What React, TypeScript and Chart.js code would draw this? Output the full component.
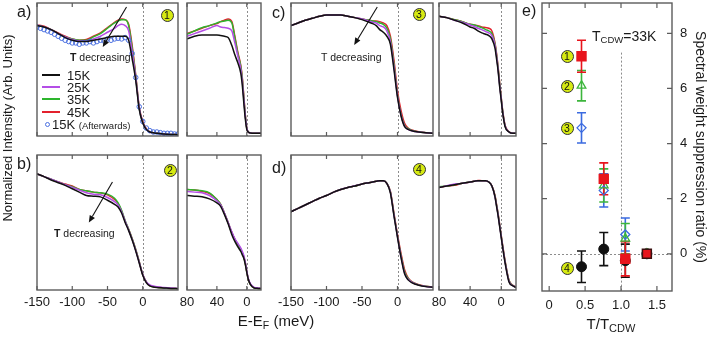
import React, { useEffect, useRef } from "react";
import { Chart, registerables } from "chart.js";

const FONT = '"Liberation Sans", Arial, Helvetica, sans-serif';

// ---------------- data ----------------
const tempLabels = ["15K", "25K", "35K", "45K"];
const tempColors = ["#111111", "#b44ee6", "#2db52d", "#e3212d"];
const afterLabel = "15K";
const afterNote = "(Afterwards)";
const afterColor = "#4a6fe0";

const wideE = [-150, -140, -130, -120, -110, -100, -90, -80, -70, -60, -50, -40, -35, -30, -25, -20, -15, -10, -5, 0, 5, 10, 15, 20, 30, 40, 50];
const narrowE = [80, 70, 60, 50, 40, 35, 30, 25, 20, 16, 12, 8, 6, 4, 2, 0, -2, -5, -10, -15, -19];
const afterE = [-150, -145, -140, -135, -130, -125, -120, -115, -110, -105, -100, -95, -90, -85, -80, -75, -70, -65, -60, -55, -50, -45, -40, -35, -30, -25, -20, -15, -10, -5, 0, 5, 10, 15, 20, 25, 30, 35, 40, 45, 50];
const wideTicks = [-150, -100, -50, 0];
const narrowTicks = [80, 40, 0];

// panel a (1)
const aW15 = [0.83, 0.82, 0.80, 0.77, 0.74, 0.72, 0.71, 0.71, 0.72, 0.73, 0.74, 0.75, 0.75, 0.75, 0.75, 0.72, 0.58, 0.42, 0.20, 0.10, 0.05, 0.03, 0.025, 0.02, 0.015, 0.012, 0.01];
const aW25 = [0.83, 0.82, 0.80, 0.77, 0.745, 0.725, 0.715, 0.715, 0.73, 0.75, 0.78, 0.81, 0.83, 0.84, 0.83, 0.79, 0.63, 0.44, 0.21, 0.10, 0.05, 0.03, 0.025, 0.02, 0.015, 0.012, 0.01];
const aW35 = [0.83, 0.82, 0.80, 0.77, 0.745, 0.73, 0.72, 0.72, 0.745, 0.77, 0.81, 0.85, 0.865, 0.875, 0.875, 0.83, 0.66, 0.45, 0.21, 0.10, 0.05, 0.03, 0.025, 0.02, 0.015, 0.012, 0.01];
const aW45 = [0.835, 0.825, 0.80, 0.775, 0.75, 0.73, 0.72, 0.725, 0.75, 0.775, 0.815, 0.855, 0.87, 0.88, 0.875, 0.84, 0.68, 0.46, 0.22, 0.11, 0.055, 0.03, 0.025, 0.02, 0.015, 0.012, 0.01];
const aAfter = [0.82, 0.81, 0.80, 0.79, 0.78, 0.765, 0.75, 0.735, 0.72, 0.71, 0.70, 0.70, 0.69, 0.70, 0.70, 0.71, 0.70, 0.71, 0.72, 0.715, 0.73, 0.72, 0.73, 0.735, 0.73, 0.74, 0.72, 0.62, 0.44, 0.22, 0.11, 0.06, 0.04, 0.03, 0.03, 0.025, 0.02, 0.02, 0.02, 0.015, 0.015];
const aN15 = [0.73, 0.75, 0.76, 0.76, 0.76, 0.755, 0.75, 0.74, 0.68, 0.61, 0.55, 0.47, 0.38, 0.25, 0.13, 0.05, 0.03, 0.022, 0.02, 0.02, 0.02];
const aN25 = [0.75, 0.77, 0.79, 0.81, 0.83, 0.82, 0.815, 0.81, 0.79, 0.70, 0.60, 0.50, 0.41, 0.28, 0.15, 0.06, 0.03, 0.022, 0.02, 0.02, 0.02];
const aN35 = [0.765, 0.79, 0.815, 0.83, 0.85, 0.86, 0.865, 0.87, 0.85, 0.74, 0.62, 0.52, 0.43, 0.29, 0.155, 0.06, 0.03, 0.022, 0.02, 0.02, 0.02];
const aN45 = [0.77, 0.79, 0.81, 0.83, 0.845, 0.86, 0.87, 0.88, 0.86, 0.75, 0.63, 0.53, 0.44, 0.30, 0.16, 0.06, 0.03, 0.022, 0.02, 0.02, 0.02];

// panel b (2)
const bW15 = [0.86, 0.84, 0.815, 0.795, 0.775, 0.75, 0.725, 0.70, 0.695, 0.69, 0.665, 0.635, 0.615, 0.57, 0.50, 0.44, 0.37, 0.29, 0.20, 0.11, 0.055, 0.03, 0.022, 0.018, 0.015, 0.012, 0.01];
const bW25 = [0.86, 0.84, 0.82, 0.80, 0.78, 0.76, 0.74, 0.72, 0.71, 0.705, 0.685, 0.655, 0.63, 0.58, 0.51, 0.445, 0.375, 0.295, 0.205, 0.115, 0.06, 0.038, 0.03, 0.024, 0.018, 0.014, 0.012];
const bW35 = [0.86, 0.84, 0.82, 0.80, 0.78, 0.765, 0.745, 0.735, 0.725, 0.72, 0.71, 0.68, 0.645, 0.59, 0.515, 0.45, 0.38, 0.30, 0.21, 0.115, 0.06, 0.033, 0.024, 0.02, 0.015, 0.012, 0.01];
const bW45 = [0.86, 0.84, 0.82, 0.80, 0.785, 0.77, 0.745, 0.735, 0.725, 0.72, 0.705, 0.67, 0.64, 0.585, 0.51, 0.45, 0.38, 0.30, 0.21, 0.115, 0.06, 0.033, 0.024, 0.02, 0.015, 0.012, 0.01];
const bN15 = [0.70, 0.695, 0.69, 0.675, 0.645, 0.62, 0.56, 0.49, 0.41, 0.36, 0.32, 0.285, 0.26, 0.235, 0.19, 0.13, 0.08, 0.04, 0.015, 0.012, 0.01];
const bN25 = [0.73, 0.725, 0.72, 0.70, 0.66, 0.63, 0.57, 0.50, 0.43, 0.38, 0.345, 0.31, 0.285, 0.255, 0.205, 0.14, 0.085, 0.045, 0.02, 0.015, 0.012];
const bN35 = [0.745, 0.74, 0.735, 0.72, 0.67, 0.635, 0.57, 0.50, 0.425, 0.375, 0.34, 0.30, 0.275, 0.245, 0.20, 0.135, 0.08, 0.04, 0.015, 0.012, 0.01];
const bN45 = [0.745, 0.74, 0.73, 0.715, 0.67, 0.635, 0.57, 0.50, 0.425, 0.375, 0.335, 0.30, 0.27, 0.245, 0.20, 0.135, 0.08, 0.04, 0.015, 0.012, 0.01];

// panel c (3)
const cW15 = [0.83, 0.85, 0.87, 0.885, 0.90, 0.91, 0.91, 0.91, 0.90, 0.89, 0.875, 0.855, 0.845, 0.83, 0.80, 0.78, 0.75, 0.69, 0.50, 0.29, 0.15, 0.07, 0.05, 0.04, 0.03, 0.025, 0.02];
const cW25 = [0.83, 0.85, 0.87, 0.885, 0.90, 0.91, 0.91, 0.91, 0.90, 0.89, 0.88, 0.865, 0.855, 0.85, 0.83, 0.82, 0.79, 0.71, 0.52, 0.30, 0.155, 0.075, 0.05, 0.04, 0.03, 0.025, 0.02];
const cW35 = [0.83, 0.85, 0.87, 0.885, 0.90, 0.91, 0.91, 0.91, 0.90, 0.89, 0.88, 0.87, 0.865, 0.86, 0.85, 0.84, 0.81, 0.73, 0.54, 0.31, 0.16, 0.08, 0.055, 0.042, 0.03, 0.025, 0.02];
const cW45 = [0.83, 0.85, 0.87, 0.885, 0.90, 0.91, 0.91, 0.91, 0.90, 0.89, 0.88, 0.87, 0.865, 0.865, 0.86, 0.85, 0.83, 0.75, 0.57, 0.34, 0.19, 0.095, 0.06, 0.045, 0.032, 0.025, 0.02];
const cN15 = [0.90, 0.89, 0.87, 0.85, 0.82, 0.81, 0.79, 0.775, 0.765, 0.755, 0.73, 0.66, 0.58, 0.49, 0.37, 0.27, 0.17, 0.07, 0.03, 0.02, 0.02];
const cN25 = [0.90, 0.89, 0.87, 0.855, 0.835, 0.825, 0.81, 0.80, 0.785, 0.775, 0.755, 0.68, 0.60, 0.50, 0.38, 0.28, 0.175, 0.075, 0.03, 0.02, 0.02];
const cN35 = [0.90, 0.89, 0.875, 0.86, 0.84, 0.835, 0.825, 0.815, 0.80, 0.79, 0.77, 0.69, 0.61, 0.51, 0.39, 0.285, 0.18, 0.075, 0.03, 0.02, 0.02];
const cN45 = [0.90, 0.89, 0.875, 0.86, 0.84, 0.835, 0.83, 0.82, 0.815, 0.81, 0.79, 0.70, 0.62, 0.52, 0.40, 0.29, 0.185, 0.08, 0.032, 0.02, 0.02];

// panel d (4)
const dW15 = [0.58, 0.605, 0.63, 0.655, 0.68, 0.70, 0.725, 0.745, 0.76, 0.77, 0.785, 0.795, 0.80, 0.805, 0.81, 0.81, 0.79, 0.72, 0.55, 0.39, 0.24, 0.12, 0.075, 0.055, 0.035, 0.025, 0.02];
const dW25 = [0.58, 0.605, 0.63, 0.655, 0.68, 0.70, 0.725, 0.745, 0.76, 0.772, 0.785, 0.795, 0.80, 0.805, 0.81, 0.81, 0.79, 0.725, 0.555, 0.395, 0.245, 0.125, 0.08, 0.058, 0.036, 0.026, 0.02];
const dW35 = [0.58, 0.605, 0.63, 0.655, 0.68, 0.70, 0.725, 0.745, 0.76, 0.77, 0.785, 0.795, 0.80, 0.805, 0.81, 0.81, 0.79, 0.727, 0.56, 0.40, 0.255, 0.135, 0.085, 0.06, 0.038, 0.027, 0.021];
const dW45 = [0.58, 0.605, 0.63, 0.655, 0.68, 0.70, 0.725, 0.745, 0.76, 0.77, 0.785, 0.795, 0.80, 0.805, 0.81, 0.81, 0.79, 0.73, 0.57, 0.41, 0.27, 0.15, 0.09, 0.062, 0.04, 0.028, 0.022];
const dN15 = [0.76, 0.77, 0.78, 0.79, 0.80, 0.805, 0.81, 0.81, 0.81, 0.80, 0.77, 0.69, 0.62, 0.55, 0.47, 0.39, 0.31, 0.20, 0.06, 0.03, 0.02];
const dN25 = [0.76, 0.772, 0.785, 0.79, 0.80, 0.805, 0.81, 0.81, 0.81, 0.80, 0.77, 0.69, 0.625, 0.555, 0.475, 0.395, 0.315, 0.205, 0.065, 0.032, 0.02];
const dN35 = [0.765, 0.77, 0.78, 0.79, 0.80, 0.805, 0.81, 0.81, 0.81, 0.80, 0.77, 0.695, 0.63, 0.56, 0.48, 0.40, 0.32, 0.21, 0.07, 0.033, 0.021];
const dN45 = [0.76, 0.77, 0.775, 0.79, 0.80, 0.805, 0.812, 0.81, 0.81, 0.80, 0.772, 0.70, 0.635, 0.565, 0.485, 0.405, 0.325, 0.215, 0.072, 0.035, 0.022];

// panel e
const eTRatio = [0.45, 0.76, 1.06, 1.36];
const eVal1 = [7.17, 2.72, -0.18, 0];
const eErr1 = [0.58, 0.58, 0.62, 0];
const eVal2 = [6.1, 2.48, 0.55, 0];
const eErr2 = [0.55, 0.6, 0.55, 0];
const eVal3 = [4.57, 2.3, 0.7, 0];
const eErr3 = [0.55, 0.6, 0.6, 0];
const eVal4 = [-0.47, 0.17, -0.25, 0];
const eErr4 = [0.57, 0.6, 0.6, 0];
const eXTicks = [0, 0.5, 1.0, 1.5];
const eYTicks = [0, 2, 4, 6, 8];
const tcdwText = "=33K";

// ---------------- plugins ----------------
const decorPlugin: any = {
  id: "decor",
  beforeDatasetsDraw(chart: any, _a: any, o: any) {
    if (!o || !o.frame) return;
    const { ctx, chartArea: a, scales } = chart;
    const xs = scales.x, ys = scales.y;
    ctx.save();
    ctx.strokeStyle = "#8c8c8c";
    ctx.lineWidth = 1;
    ctx.setLineDash([2, 2]);
    (o.vLines || []).forEach((l: any) => {
      const px = Math.round(xs.getPixelForValue(l.x)) + 0.5;
      const top = l.from != null ? ys.getPixelForValue(l.from) : a.top;
      ctx.beginPath();
      ctx.moveTo(px, top);
      ctx.lineTo(px, a.bottom);
      ctx.stroke();
    });
    (o.hLines || []).forEach((v: number) => {
      const py = Math.round(ys.getPixelForValue(v)) + 0.5;
      ctx.beginPath();
      ctx.moveTo(a.left, py);
      ctx.lineTo(a.right, py);
      ctx.stroke();
    });
    ctx.restore();
  },
  afterDatasetsDraw(chart: any, _a: any, o: any) {
    if (!o || !o.frame) return;
    const { ctx, chartArea: a, scales } = chart;
    const xs = scales.x, ys = scales.y;
    ctx.save();
    ctx.setLineDash([]);
    ctx.strokeStyle = "#5c5c5c";
    ctx.lineWidth = 1.4;
    ctx.strokeRect(a.left, a.top, a.right - a.left, a.bottom - a.top);
    ctx.lineWidth = 1.2;
    const L = o.tickLen || 4;
    ctx.beginPath();
    (o.xTicks || []).forEach((v: number) => {
      const px = xs.getPixelForValue(v);
      ctx.moveTo(px, a.bottom);
      ctx.lineTo(px, a.bottom - L);
      ctx.moveTo(px, a.top);
      ctx.lineTo(px, a.top + L);
    });
    (o.yTicks || []).forEach((v: number) => {
      const py = ys.getPixelForValue(v);
      ctx.moveTo(a.left, py);
      ctx.lineTo(a.left + L, py);
      ctx.moveTo(a.right, py);
      ctx.lineTo(a.right - L, py);
    });
    ctx.stroke();
    ctx.strokeStyle = "#111";
    ctx.fillStyle = "#111";
    ctx.lineWidth = 1.1;
    (o.arrows || []).forEach((ar: any) => {
      const x1 = xs.getPixelForValue(ar.x1), y1 = ys.getPixelForValue(ar.y1);
      const x2 = xs.getPixelForValue(ar.x2), y2 = ys.getPixelForValue(ar.y2);
      const ang = Math.atan2(y2 - y1, x2 - x1);
      const hl = 7, hw = 3;
      const bx = x2 - hl * Math.cos(ang), by = y2 - hl * Math.sin(ang);
      ctx.beginPath();
      ctx.moveTo(x1, y1);
      ctx.lineTo(bx, by);
      ctx.stroke();
      ctx.beginPath();
      ctx.moveTo(x2, y2);
      ctx.lineTo(bx + hw * Math.sin(ang), by - hw * Math.cos(ang));
      ctx.lineTo(bx - hw * Math.sin(ang), by + hw * Math.cos(ang));
      ctx.closePath();
      ctx.fill();
    });
    ctx.restore();
  },
};

const errorBarPlugin: any = {
  id: "errbars",
  beforeDatasetsDraw(chart: any) {
    const { ctx } = chart;
    const ys = chart.scales.y;
    for (let i = chart.data.datasets.length - 1; i >= 0; i--) {
      const ds = chart.data.datasets[i];
      if (!ds.errors) continue;
      const meta = chart.getDatasetMeta(i);
      ctx.save();
      ctx.strokeStyle = ds.errColor;
      ctx.lineWidth = 1.6;
      meta.data.forEach((pt: any, j: number) => {
        const e = ds.errors[j];
        if (!e) return;
        const v = ds.data[j].y;
        const yt = ys.getPixelForValue(v + e), yb = ys.getPixelForValue(v - e);
        const x = pt.x, cw = 4.5;
        ctx.beginPath();
        ctx.moveTo(x, yt);
        ctx.lineTo(x, yb);
        ctx.moveTo(x - cw, yt);
        ctx.lineTo(x + cw, yt);
        ctx.moveTo(x - cw, yb);
        ctx.lineTo(x + cw, yb);
        ctx.stroke();
      });
      ctx.restore();
    }
  },
};

Chart.register(...registerables, decorPlugin, errorBarPlugin);

// ---------------- layout ----------------
const PADX = 22, PADT = 3, LABEL_H = 24;

type PanelDef = {
  box: [number, number, number, number];
  xs: number[];
  series: number[][];
  wide: boolean;
  labels: boolean;
  after?: number[];
  arrow?: { x1: number; y1: number; x2: number; y2: number };
};

const panels: PanelDef[] = [
  { box: [37, 3, 178, 136], xs: wideE, series: [aW15, aW25, aW35, aW45], wide: true, labels: false, after: aAfter, arrow: { x1: -23, y1: 0.97, x2: -56.7, y2: 0.67 } },
  { box: [187, 3, 261, 136], xs: narrowE, series: [aN15, aN25, aN35, aN45], wide: false, labels: false },
  { box: [291, 3, 433, 136], xs: wideE, series: [cW15, cW25, cW35, cW45], wide: true, labels: false, arrow: { x1: -28.5, y1: 0.97, x2: -61, y2: 0.685 } },
  { box: [439, 3, 516, 136], xs: narrowE, series: [cN15, cN25, cN35, cN45], wide: false, labels: false },
  { box: [37, 155, 178, 290], xs: wideE, series: [bW15, bW25, bW35, bW45], wide: true, labels: true, arrow: { x1: -43, y1: 0.8, x2: -76.5, y2: 0.5 } },
  { box: [187, 155, 261, 290], xs: narrowE, series: [bN15, bN25, bN35, bN45], wide: false, labels: true },
  { box: [291, 155, 433, 290], xs: wideE, series: [dW15, dW25, dW35, dW45], wide: true, labels: true },
  { box: [439, 155, 516, 290], xs: narrowE, series: [dN15, dN25, dN35, dN45], wide: false, labels: true },
];

const noGrid = { display: false, drawTicks: false, tickLength: 0 };

function spectrumConfig(p: PanelDef): any {
  const datasets: any[] = p.series.map((vals, i) => ({
    label: tempLabels[i],
    data: p.xs.map((x, j) => ({ x, y: vals[j] })),
    borderColor: tempColors[i],
    backgroundColor: tempColors[i],
    borderWidth: 1.5,
    pointRadius: 0,
    pointHoverRadius: 0,
    fill: false,
    cubicInterpolationMode: "monotone",
  }));
  if (p.after) {
    datasets.splice(1, 0, {
      label: afterLabel + " " + afterNote,
      data: afterE.map((x, j) => ({ x, y: p.after![j] })),
      showLine: false,
      pointRadius: 2.3,
      pointHoverRadius: 2.3,
      pointStyle: "circle",
      borderColor: afterColor,
      backgroundColor: "rgba(0,0,0,0)",
      pointBorderWidth: 1,
    });
  }
  const ticks = p.wide ? wideTicks : narrowTicks;
  return {
    type: "line",
    data: { datasets },
    options: {
      animation: false,
      responsive: false,
      events: [],
      layout: { autoPadding: false, padding: { left: PADX, right: PADX, top: PADT, bottom: p.labels ? 0 : 3 } },
      plugins: {
        legend: { display: false },
        tooltip: { enabled: false },
        decor: { frame: true, xTicks: ticks, vLines: [{ x: 0 }], arrows: p.arrow ? [p.arrow] : [], tickLen: 4 },
      },
      scales: {
        x: {
          type: "linear",
          min: p.wide ? -150 : -19,
          max: p.wide ? 50 : 80,
          reverse: !p.wide,
          display: p.labels,
          grid: noGrid,
          border: { display: false },
          afterBuildTicks: (s: any) => {
            s.ticks = ticks.map((v) => ({ value: v }));
          },
          afterFit: (s: any) => {
            s.height = p.labels ? LABEL_H : 0;
            s.paddingTop = 0;
            s.paddingBottom = 0;
          },
          ticks: {
            autoSkip: false,
            maxRotation: 0,
            padding: 5,
            color: "#1a1a1a",
            font: { family: FONT, size: 13 },
            callback: (v: any) => String(v),
          },
        },
        y: {
          type: "linear",
          min: 0,
          max: 1,
          display: false,
          grid: noGrid,
          afterFit: (s: any) => {
            s.width = 0;
            s.paddingTop = 0;
            s.paddingBottom = 0;
          },
        },
      },
    },
  };
}

function eConfig(): any {
  const mk = (vals: number[]) => eTRatio.map((x, i) => ({ x, y: vals[i] }));
  return {
    type: "scatter",
    data: {
      datasets: [
        { label: "1", data: mk(eVal1), errors: eErr1, errColor: "#e8141c", pointStyle: "rect", pointRadius: 6.3, pointHoverRadius: 6.3, backgroundColor: "#e8141c", borderColor: ["#e8141c", "#e8141c", "#e8141c", "#3a1010"], borderWidth: 1.5 },
        { label: "2", data: mk(eVal2), errors: eErr2, errColor: "#3cb53c", pointStyle: "triangle", pointRadius: 5, pointHoverRadius: 5, backgroundColor: "rgba(255,255,255,0)", borderColor: "#3cb53c", borderWidth: 1.3 },
        { label: "3", data: mk(eVal3), errors: eErr3, errColor: "#3b6be0", pointStyle: "rectRot", pointRadius: 4.5, pointHoverRadius: 4.5, backgroundColor: "rgba(255,255,255,0)", borderColor: "#3b6be0", borderWidth: 1.3 },
        { label: "4", data: mk(eVal4), errors: eErr4, errColor: "#111", pointStyle: "circle", pointRadius: 5, pointHoverRadius: 5, backgroundColor: "#111", borderColor: "#111", borderWidth: 1 },
      ],
    },
    options: {
      animation: false,
      responsive: false,
      events: [],
      layout: { autoPadding: false, padding: { left: 12, top: 3, right: 0, bottom: 0 } },
      plugins: {
        legend: { display: false },
        tooltip: { enabled: false },
        decor: { frame: true, xTicks: eXTicks, yTicks: eYTicks, vLines: [{ x: 1.0, from: 7.3 }], hLines: [0], tickLen: 5 },
      },
      scales: {
        x: {
          type: "linear",
          min: -0.1,
          max: 1.71,
          grid: noGrid,
          border: { display: false },
          afterBuildTicks: (s: any) => {
            s.ticks = eXTicks.map((v) => ({ value: v }));
          },
          afterFit: (s: any) => {
            s.height = 46;
            s.paddingLeft = 0;
            s.paddingRight = 0;
          },
          ticks: {
            autoSkip: false,
            maxRotation: 0,
            padding: 7,
            color: "#1a1a1a",
            font: { family: FONT, size: 13 },
            callback: (v: any) => (v === 0 ? "0" : Number(v).toFixed(1)),
          },
        },
        y: {
          type: "linear",
          position: "right",
          min: -1.35,
          max: 9.1,
          grid: noGrid,
          border: { display: false },
          afterBuildTicks: (s: any) => {
            s.ticks = eYTicks.map((v) => ({ value: v }));
          },
          afterFit: (s: any) => {
            s.width = 37;
            s.paddingTop = 0;
            s.paddingBottom = 0;
          },
          ticks: {
            autoSkip: false,
            padding: 8,
            color: "#1a1a1a",
            font: { family: FONT, size: 13 },
            callback: (v: any) => String(v),
          },
          title: {
            display: true,
            text: "Spectral weight suppression ratio (%)",
            color: "#1a1a1a",
            font: { family: FONT, size: 14 },
            padding: { top: 1, bottom: 0 },
          },
        },
      },
    },
  };
}

function ChartCanvas({ left, top, width, height, config }: any) {
  const ref = useRef<HTMLCanvasElement>(null);
  useEffect(() => {
    const chart = new Chart(ref.current as HTMLCanvasElement, config);
    return () => chart.destroy();
  }, []);
  return (
    <canvas
      ref={ref}
      width={width}
      height={height}
      style={{ position: "absolute", left, top, width, height }}
    />
  );
}

function Badge({ n, cx, cy }: any) {
  return (
    <div
      style={{
        position: "absolute",
        left: cx - 6.5,
        top: cy - 6.5,
        width: 13,
        height: 13,
        borderRadius: "50%",
        background: "#d6ea12",
        border: "1px solid #333",
        boxSizing: "border-box",
        fontFamily: FONT,
        fontSize: 10.5,
        lineHeight: "11px",
        textAlign: "center",
        color: "#111",
      }}
    >
      {n}
    </div>
  );
}

const T = (s: any): any => ({
  position: "absolute",
  fontFamily: FONT,
  color: "#1a1a1a",
  whiteSpace: "nowrap",
  lineHeight: 1,
  ...s,
});

export default function App() {
  const legendRows = [75, 87, 99, 112];
  return (
    <div style={{ position: "absolute", left: 0, top: 0, width: 709, height: 337, background: "#fff", overflow: "hidden" }}>
      {panels.map((p, i) => {
        const [x0, y0, x1, y1] = p.box;
        return (
          <ChartCanvas
            key={i}
            left={x0 - PADX}
            top={y0 - PADT}
            width={x1 - x0 + 2 * PADX}
            height={y1 - y0 + PADT + (p.labels ? LABEL_H : 3)}
            config={spectrumConfig(p)}
          />
        );
      })}
      <ChartCanvas left={530} top={0} width={179} height={337} config={eConfig()} />

      {/* panel letters */}
      <div style={T({ left: 17, top: 4, fontSize: 16 })}>a)</div>
      <div style={T({ left: 17, top: 156, fontSize: 16 })}>b)</div>
      <div style={T({ left: 272, top: 5, fontSize: 16 })}>c)</div>
      <div style={T({ left: 272, top: 160, fontSize: 16 })}>d)</div>
      <div style={T({ left: 522, top: 3, fontSize: 16 })}>e)</div>

      {/* badges */}
      <Badge n="1" cx={167} cy={15} />
      <Badge n="2" cx={170} cy={170} />
      <Badge n="3" cx={419} cy={14} />
      <Badge n="4" cx={419} cy={169} />
      <Badge n="1" cx={567} cy={56} />
      <Badge n="2" cx={567} cy={86} />
      <Badge n="3" cx={567} cy={128} />
      <Badge n="4" cx={567} cy={268} />

      {/* T decreasing */}
      <div style={T({ left: 70, top: 52, fontSize: 10.5 })}><b>T</b> decreasing</div>
      <div style={T({ left: 54, top: 228, fontSize: 10.5 })}><b>T</b> decreasing</div>
      <div style={T({ left: 321, top: 52, fontSize: 10.5 })}>T decreasing</div>

      {/* legend */}
      {tempLabels.map((lab, i) => (
        <React.Fragment key={lab}>
          <div style={{ position: "absolute", left: 42, top: legendRows[i] - 0.75, width: 18, height: 1.5, background: tempColors[i] }} />
          <div style={T({ left: 67, top: legendRows[i] - 6.5, fontSize: 13 })}>{lab}</div>
        </React.Fragment>
      ))}
      <div style={{ position: "absolute", left: 44.5, top: 121.5, width: 5, height: 5, borderRadius: "50%", border: `1px solid ${afterColor}`, boxSizing: "border-box" }} />
      <div style={T({ left: 52, top: 117.5, fontSize: 13 })}>
        {afterLabel} <span style={{ fontSize: 9.5 }}>{afterNote}</span>
      </div>

      {/* T_CDW */}
      <div style={T({ left: 592, top: 29, fontSize: 14 })}>
        T<sub style={{ fontSize: 9.5, verticalAlign: "-2px" }}>CDW</sub>{tcdwText}
      </div>

      {/* axis titles */}
      <div style={T({ left: 7, top: 128, fontSize: 13, transform: "translate(-50%,-50%) rotate(-90deg)" })}>
        Normalized Intensity (Arb. Units)
      </div>
      <div style={T({ left: 276, top: 322, fontSize: 15, transform: "translate(-50%,-50%)" })}>
        E-E<sub style={{ fontSize: 10.5, verticalAlign: "-3px" }}>F</sub> (meV)
      </div>
      <div style={T({ left: 611, top: 325, fontSize: 15, transform: "translate(-50%,-50%)" })}>
        T/T<sub style={{ fontSize: 11, verticalAlign: "-3px" }}>CDW</sub>
      </div>
    </div>
  );
}
